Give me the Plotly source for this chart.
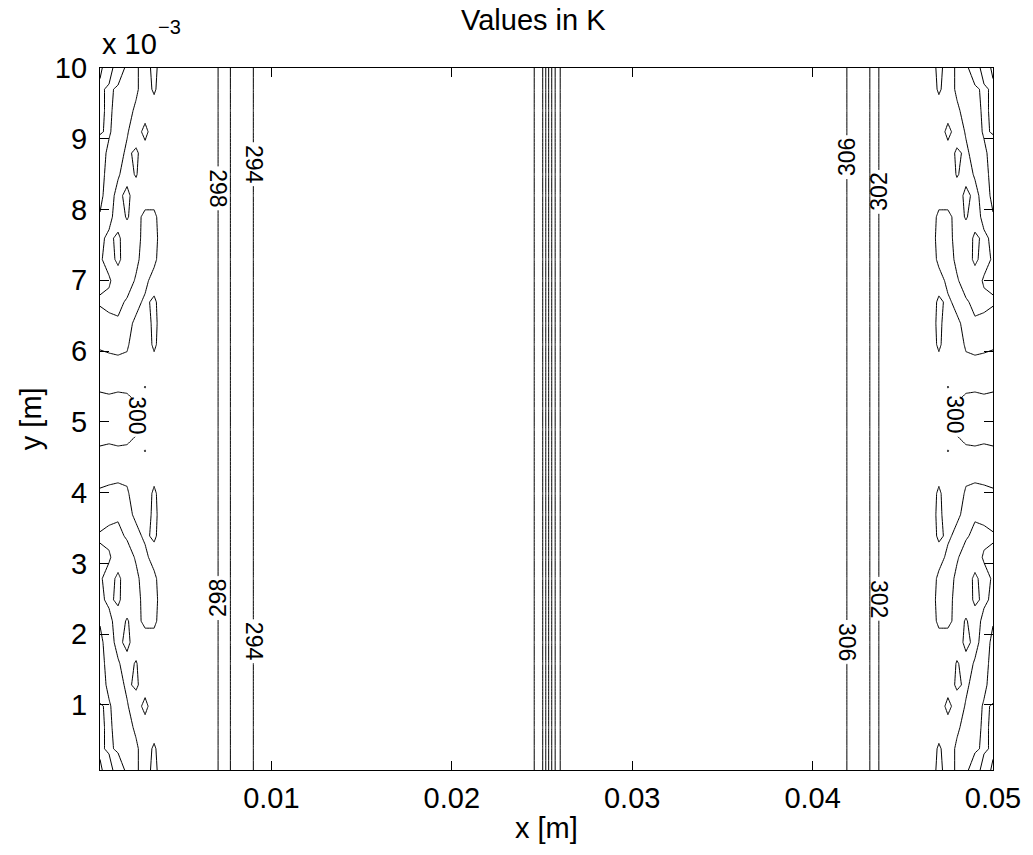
import numpy as np
import plotly.graph_objects as go

# ---------------- data ----------------
# grid columns near the left wall (m), listed from the wall inward
LEFT_NOISE_X = [0.0005, 0.0010, 0.0015, 0.0020, 0.0025, 0.0030,
                0.0035, 0.0040, 0.0045, 0.0050, 0.0055, 0.0060]
# grid columns near the right wall (m), listed from the wall inward
RIGHT_NOISE_X = [0.0500, 0.0495, 0.0490, 0.0485, 0.0480, 0.0475,
                 0.0470, 0.0465, 0.0460, 0.0455, 0.0450, 0.0445]
# smooth interior temperature profile T(x) (K)
PROFILE_X = [0.0065, 0.0075, 0.0080, 0.0095, 0.0110, 0.0240,
             0.02457, 0.02504, 0.02521, 0.02537, 0.02554, 0.02573, 0.02601,
             0.0265, 0.0399, 0.0414, 0.0429, 0.0434, 0.0440]
PROFILE_T = [298.6, 297.5, 294.2, 293.9, 293.5, 293.5,
             294.0, 296.0, 298.0, 300.0, 302.0, 304.0, 306.0,
             306.5, 306.5, 306.1, 305.8, 302.5, 301.4]

# wall-region fluctuation around 300 K, in units of 0.1 K
# rows from top (y = 0.01) to bottom, columns from the wall inward
EDGE_DEV = [
    [-1.0,  3.0, -4.0,  1.5,  1.0, -3.0,  2.0, -4.0, -6.0, -7.0, -8.0, -9.0],
    [ 1.0, -1.0,  1.0,  3.0,  1.0, -3.0,  1.0, -4.0, -6.0, -7.0, -8.0, -9.0],
    [ 1.0, -1.0,  2.0,  2.0, -1.0, -3.0, -3.0, -4.0, -6.0, -7.0, -8.0, -9.0],
    [ 0.3, -0.5,  2.0,  0.5, -3.0,  2.0, -4.0, -4.0, -6.0, -7.0, -8.0, -9.0],
    [-2.0,  1.0,  2.0, -1.0,  1.0, -3.0, -4.0, -5.0, -6.0, -7.0, -8.0, -9.0],
    [-2.0,  2.0,  0.5, -2.0,  0.5, -4.0, -4.0, -5.0, -6.0, -7.0, -8.0, -9.0],
    [-1.0,  2.0, -1.5,  1.5, -3.0, -4.0, -4.0, -5.0, -6.0, -7.0, -8.0, -9.0],
    [ 0.3,  1.5, -2.5,  0.5, -2.5,  2.0,  2.0, -5.0, -6.0, -7.0, -8.0, -9.0],
    [ 1.0, -1.0,  1.0, -3.0, -2.0,  2.0,  2.5, -4.0, -6.0, -7.0, -8.0, -9.0],
    [ 0.5, -1.5,  0.8, -2.0, -1.0,  2.0,  1.5, -4.0, -6.0, -7.0, -8.0, -9.0],
    [ 1.0,  0.5, -2.0, -2.0,  0.5,  1.5, -2.5, -4.0, -6.0, -7.0, -8.0, -9.0],
    [-0.5, -1.0, -1.0,  0.5,  1.5, -1.0,  1.0, -3.0, -6.0, -7.0, -8.0, -9.0],
    [ 2.0,  1.0,  0.5,  1.5, -1.0, -3.0,  1.5, -3.0, -6.0, -7.0, -8.0, -9.0],
    [ 0.5,  1.0,  1.0,  0.5, -2.0, -3.0,  1.0, -3.0, -6.0, -7.0, -8.0, -9.0],
    [-1.5, -1.5, -1.0, -1.0, -2.0, -3.0, -2.0, -4.0, -6.0, -7.0, -8.0, -9.0],
    [-0.3, -0.5, -0.3, -0.5, -1.5, 0.15, -3.0, -4.0, -6.0, -7.0, -8.0, -9.0],
    [ 1.0,  1.0,  1.0,  1.2,  0.6, -3.0, -4.0, -4.0, -6.0, -7.0, -8.0, -9.0],
    [ 1.0,  1.0,  1.0,  1.2,  0.6, -3.0, -4.0, -4.0, -6.0, -7.0, -8.0, -9.0],
    [-0.3, -0.5, -0.3, -0.5, -1.5, 0.15, -3.0, -4.0, -6.0, -7.0, -8.0, -9.0],
    [-1.5, -1.5, -1.0, -1.0, -2.0, -3.0, -2.0, -4.0, -6.0, -7.0, -8.0, -9.0],
    [ 0.5,  1.0,  1.0,  0.5, -2.0, -3.0,  1.0, -3.0, -6.0, -7.0, -8.0, -9.0],
    [ 2.0,  1.0,  0.5,  1.5, -1.0, -3.0,  1.5, -3.0, -6.0, -7.0, -8.0, -9.0],
    [-0.5, -1.0, -1.0,  0.5,  1.5, -1.0,  1.0, -3.0, -6.0, -7.0, -8.0, -9.0],
    [ 1.0,  0.5, -2.0, -2.0,  0.5,  1.5, -2.5, -4.0, -6.0, -7.0, -8.0, -9.0],
    [ 0.5, -1.5,  0.8, -2.0, -1.0,  2.0,  1.5, -4.0, -6.0, -7.0, -8.0, -9.0],
    [ 1.0, -1.0,  1.0, -3.0, -2.0,  2.0,  2.5, -4.0, -6.0, -7.0, -8.0, -9.0],
    [ 0.3,  1.5, -2.5,  0.5, -2.5,  2.0,  2.0, -5.0, -6.0, -7.0, -8.0, -9.0],
    [-1.0,  2.0, -1.5,  1.5, -3.0, -4.0, -4.0, -5.0, -6.0, -7.0, -8.0, -9.0],
    [-2.0,  2.0,  0.5, -2.0,  0.5, -4.0, -4.0, -5.0, -6.0, -7.0, -8.0, -9.0],
    [-2.0,  1.0,  2.0, -1.0,  1.0, -3.0, -4.0, -5.0, -6.0, -7.0, -8.0, -9.0],
    [ 0.3, -0.5,  2.0,  0.5, -3.0,  2.0, -4.0, -4.0, -6.0, -7.0, -8.0, -9.0],
    [ 1.0, -1.0,  2.0,  2.0, -1.0, -3.0, -3.0, -4.0, -6.0, -7.0, -8.0, -9.0],
    [ 1.0, -1.0,  1.0,  3.0,  1.0, -3.0,  1.0, -4.0, -6.0, -7.0, -8.0, -9.0],
    [-1.0,  3.0, -4.0,  1.5,  1.0, -3.0,  2.0, -4.0, -6.0, -7.0, -8.0, -9.0],
]
Y_MIN, Y_MAX = 0.00008, 0.01
LEVEL_START, LEVEL_END, LEVEL_STEP = 294, 306, 2

# inline labels: (level, y position, text angle)
PROFILE_LABELS = [(298, 0.00830, 90), (294, 0.00864, 90),
                  (298, 0.00251, -90), (294, 0.00190, 90),
                  (306, 0.00874, -90), (302, 0.00825, -90),
                  (302, 0.00250, 90), (306, 0.00189, 90)]
NOISE_LABELS = [("300", 0.00258, 0.00510, 90), ("300", 0.04792, 0.00510, 90)]

X_TICKS = [0.01, 0.02, 0.03, 0.04, 0.05]
X_TICKTEXT = ["0.01", "0.02", "0.03", "0.04", "0.05"]
Y_TICKS = [0.001, 0.002, 0.003, 0.004, 0.005, 0.006, 0.007, 0.008, 0.009, 0.010]
Y_TICKTEXT = ["1", "2", "3", "4", "5", "6", "7", "8", "9", "10"]

# ---------------- build the field ----------------
x_grid = LEFT_NOISE_X + PROFILE_X + RIGHT_NOISE_X[::-1]
rows_bottom_up = EDGE_DEV[::-1]
y_grid = np.linspace(Y_MIN, Y_MAX, len(rows_bottom_up))
z = []
for dev in rows_bottom_up:
    left = [300.0 + 0.1 * d for d in dev]
    right = [300.0 - 0.1 * d for d in dev]
    z.append(left + PROFILE_T + right[::-1])

FONT = "Liberation Sans, Arial, Helvetica, sans-serif"

fig = go.Figure()
fig.add_trace(go.Contour(
    x=x_grid, y=y_grid, z=z,
    contours=dict(start=LEVEL_START, end=LEVEL_END, size=LEVEL_STEP,
                  coloring="lines", showlabels=False),
    colorscale=[[0, "black"], [1, "black"]],
    line=dict(width=1, smoothing=0),
    showscale=False, hoverinfo="skip",
))

# label positions along the smooth profile
left_x = np.array(PROFILE_X[0:5]); left_t = np.array(PROFILE_T[0:5])
right_x = np.array(PROFILE_X[14:19]); right_t = np.array(PROFILE_T[14:19])

def level_x(level):
    if level < 300:
        return float(np.interp(level, left_t[::-1], left_x[::-1]))
    return float(np.interp(level, right_t[::-1], right_x[::-1]))

shapes = []
annotations = []
label_items = [(str(lv), level_x(lv), y, a, 0.00013) for lv, y, a in PROFILE_LABELS]
label_items += [(t, x, y, a, 0.00030) for t, x, y, a in NOISE_LABELS]
for text, lx, ly, ang, half_w in label_items:
    shapes.append(dict(type="rect", xref="x", yref="y", layer="above",
                       x0=lx - half_w, x1=lx + half_w,
                       y0=ly - 0.00031, y1=ly + 0.00031,
                       fillcolor="white", line=dict(width=0)))
    annotations.append(dict(x=lx, y=ly, xref="x", yref="y", text=text,
                            showarrow=False, textangle=ang,
                            xanchor="center", yanchor="middle",
                            font=dict(family=FONT, size=23, color="black")))

annotations += [
    dict(text="Values in K", x=0.485, y=1.068, xref="paper", yref="paper",
         showarrow=False, xanchor="center", yanchor="middle",
         font=dict(family=FONT, size=29, color="black")),
    dict(text="x [m]", x=0.5, y=-0.083, xref="paper", yref="paper",
         showarrow=False, xanchor="center", yanchor="middle",
         font=dict(family=FONT, size=29, color="black")),
    dict(text="y [m]", x=-0.077, y=0.5, xref="paper", yref="paper",
         showarrow=False, xanchor="center", yanchor="middle", textangle=-90,
         font=dict(family=FONT, size=29, color="black")),
    dict(text="x 10", x=0.0, y=1.034, xref="paper", yref="paper",
         showarrow=False, xanchor="left", yanchor="middle",
         font=dict(family=FONT, size=29, color="black")),
    dict(text="\u22123", x=0.063, y=1.058, xref="paper", yref="paper",
         showarrow=False, xanchor="left", yanchor="middle",
         font=dict(family=FONT, size=20, color="black")),
]

axis_common = dict(showgrid=False, zeroline=False, showline=True,
                   linecolor="black", linewidth=1.3, mirror="ticks",
                   ticks="inside", ticklen=9, tickwidth=1, tickcolor="black",
                   tickfont=dict(family=FONT, size=29, color="black"))

fig.update_layout(
    width=1033, height=855, autosize=False,
    margin=dict(l=100, r=40, t=68, b=85),
    paper_bgcolor="white", plot_bgcolor="white",
    showlegend=False,
    xaxis=dict(range=[0.0005, 0.05], tickvals=X_TICKS, ticktext=X_TICKTEXT,
               ticklabelstandoff=2, **axis_common),
    yaxis=dict(range=[Y_MIN, Y_MAX], tickvals=Y_TICKS, ticktext=Y_TICKTEXT,
               ticklabelstandoff=6, **axis_common),
    shapes=shapes, annotations=annotations,
)

fig.write_html("out.html")
